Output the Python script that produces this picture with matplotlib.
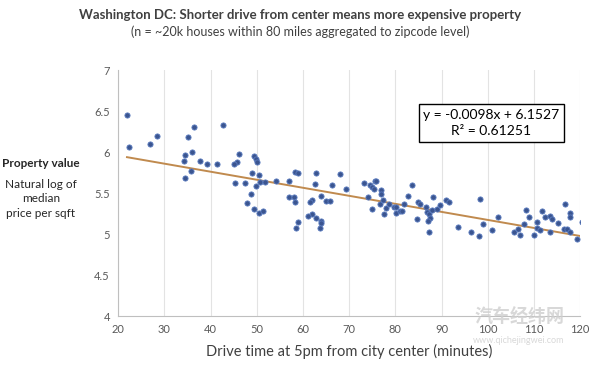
import numpy as np
import matplotlib.pyplot as plt

# Drive time (minutes) and log median price per sqft
drive_time = [21.9, 22.4, 26.8, 28.5, 36.5, 35.1, 35.9, 34.5, 34.3, 37.7, 35.7, 34.5,
              42.6, 39.2, 41.4, 46.2, 45.7, 45.0, 49.5, 49.8, 50.0, 48.9, 50.5, 45.3,
              47.4, 50.8, 51.8, 54.1, 49.9, 48.7, 47.8, 49.4, 50.5, 51.4, 57.0, 56.9,
              58.2, 58.9, 62.8, 68.0, 62.6, 66.3, 69.4, 58.0, 58.3, 61.9, 61.6, 64.0,
              64.9, 65.9, 61.9, 61.1, 62.8, 64.0, 63.9, 59.0, 58.5, 63.6, 73.1, 74.6,
              75.0, 75.3, 75.5, 74.0, 74.9, 75.8, 76.9, 76.9, 76.6, 77.4, 77.9, 77.6,
              78.7, 79.7, 80.2, 80.1, 81.0, 81.5, 81.8, 82.7, 83.6, 84.9, 85.3, 86.6,
              86.8, 87.2, 87.4, 87.0, 88.2, 87.9, 89.0, 89.7, 84.6, 87.2, 90.9, 91.7,
              93.5, 96.3, 98.0, 98.4, 98.9, 101.0, 102.2, 105.6, 106.6, 107.0, 107.9,
              108.2, 109.0, 109.9, 110.7, 110.6, 111.3, 111.7, 112.3, 113.5, 114.0,
              115.3, 116.7, 116.4, 117.1, 117.7, 117.8, 117.8, 119.2, 120.4, 113.4]
log_price = [6.45, 6.06, 6.10, 6.20, 6.30, 6.18, 6.00, 5.97, 5.89, 5.89, 5.77, 5.69,
             6.33, 5.86, 5.86, 5.98, 5.88, 5.86, 5.95, 5.91, 5.88, 5.75, 5.72, 5.62,
             5.62, 5.63, 5.64, 5.65, 5.59, 5.49, 5.38, 5.30, 5.26, 5.28, 5.65, 5.45,
             5.76, 5.75, 5.74, 5.73, 5.61, 5.60, 5.55, 5.45, 5.39, 5.41, 5.39, 5.46,
             5.40, 5.40, 5.24, 5.22, 5.20, 5.16, 5.13, 5.15, 5.08, 5.07, 5.62, 5.60,
             5.58, 5.55, 5.65, 5.45, 5.30, 5.65, 5.54, 5.49, 5.37, 5.42, 5.32, 5.25,
             5.37, 5.33, 5.33, 5.26, 5.28, 5.28, 5.37, 5.47, 5.60, 5.39, 5.37, 5.33,
             5.27, 5.24, 5.20, 5.16, 5.45, 5.29, 5.31, 5.35, 5.18, 5.03, 5.41, 5.39,
             5.09, 5.03, 4.98, 5.43, 5.12, 5.05, 5.21, 5.02, 5.06, 4.99, 5.12,
             5.29, 5.21, 4.99, 5.15, 5.08, 5.05, 5.28, 5.21, 5.22, 5.19,
             5.13, 5.37, 5.06, 5.06, 5.03, 5.26, 5.21, 4.94, 5.15, 5.03]

# Trendline as printed on the chart
slope, intercept, r_squared = -0.0098, 6.1527, 0.61251

plt.rcParams['font.family'] = ['Lato', 'Noto Sans CJK SC', 'DejaVu Sans']

fig = plt.figure(figsize=(6, 3.65), dpi=100)
ax = fig.add_axes([0.197, 0.134, 0.770, 0.674])

ax.scatter(drive_time, log_price, s=14, color='#3b5590', edgecolors='#5b7cc0',
           linewidths=0.6, zorder=3)

x_fit = np.array([min(drive_time), 120])
ax.plot(x_fit, slope * x_fit + intercept, color='#c08a4e', linewidth=1.4, zorder=2)

ax.set_xlim(20, 120)
ax.set_ylim(4, 7)
ax.set_xticks(range(20, 121, 10))
ax.set_yticks(np.arange(4, 7.01, 0.5))
ax.set_yticklabels(['4', '4.5', '5', '5.5', '6', '6.5', '7'])
ax.grid(axis='x', color='#e3e3e3', linewidth=0.8)
ax.set_axisbelow(True)
for side in ['top', 'right']:
    ax.spines[side].set_visible(False)
for side in ['left', 'bottom']:
    ax.spines[side].set_color('#bfbfbf')
ax.tick_params(length=0, labelsize=8, colors='#595959', pad=6)

ax.set_xlabel('Drive time at 5pm from city center (minutes)', fontsize=10.5,
              color='#404040', labelpad=6)

fig.text(0.5, 0.958, 'Washington DC: Shorter drive from center means more expensive property',
         ha='center', va='center', fontsize=9.5, fontweight='bold', color='#404040')
fig.text(0.5, 0.912, '(n = ~20k houses within 80 miles aggregated to zipcode level)',
         ha='center', va='center', fontsize=9, color='#404040')

fig.text(0.068, 0.553, 'Property value', ha='center', va='center', fontsize=8.5,
         fontweight='bold', color='#262626')
fig.text(0.068, 0.455, 'Natural log of\nmedian\nprice per sqft', ha='center', va='center',
         fontsize=8.5, color='#262626', linespacing=1.35)

ax.text(0.808, 0.785, f'y = {slope}x + {intercept}\nR² = {r_squared}', transform=ax.transAxes,
        ha='center', va='center', fontsize=10, color='black', linespacing=1.35,
        bbox=dict(boxstyle='square,pad=0.35', facecolor='white', edgecolor='black',
                  linewidth=1.0))

fig.text(0.865, 0.135, '汽车经纬网', ha='center', va='center', fontsize=13,
         fontweight='bold', color='#cfcfcf', alpha=0.8)
fig.text(0.865, 0.068, 'www.qichejingwei.com', ha='center', va='center', fontsize=6.5,
         color='#cfcfcf', alpha=0.8)

fig.savefig('out.png', dpi=100)
